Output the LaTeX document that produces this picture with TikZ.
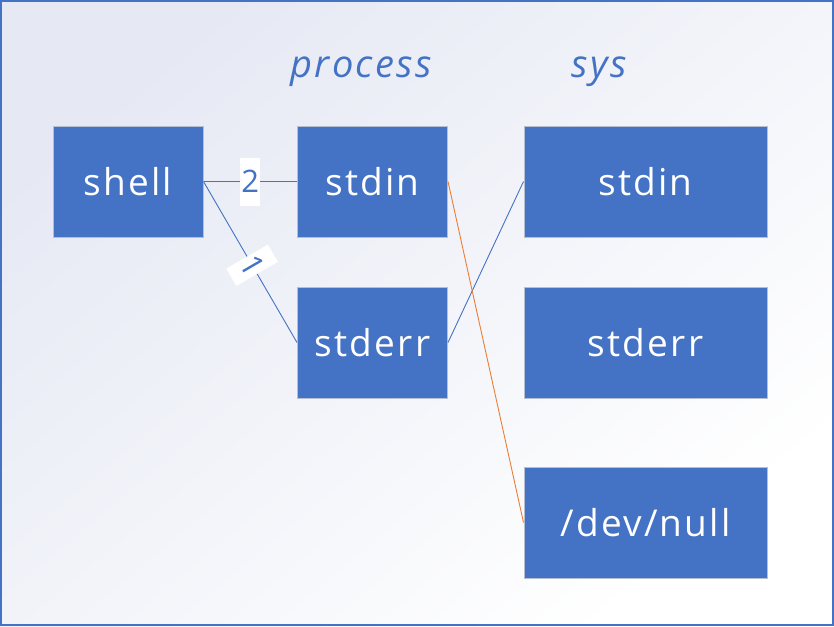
\documentclass[tikz,border=0pt]{standalone}
\usepackage{fontspec}
\setmainfont{Open Sans}
\newfontfamily\handfont[LetterSpace=6]{Open Sans}
\definecolor{acc}{HTML}{4472C4}
\definecolor{boxedge}{HTML}{B4BFD2}
\definecolor{orng}{HTML}{ED7D31}
\definecolor{bgtop}{HTML}{E6E9F4}
\begin{document}
\begin{tikzpicture}[x=1pt,y=-1pt,
  box/.style={fill=acc, draw=boxedge, line width=1pt, minimum height=111pt,
    text=white, font=\handfont\fontsize{37}{44}\selectfont, inner sep=0pt},
  narrow/.style={box, minimum width=150pt},
  wide/.style={box, minimum width=243pt},
  head/.style={text=acc, font=\handfont\fontsize{38}{44}\selectfont\itshape, inner sep=0pt},
  link/.style={draw=acc, line width=0.9pt},
  tag/.style={fill=white, text=acc, font=\fontsize{31}{34}\selectfont, inner sep=0pt,
    minimum width=20pt, minimum height=48pt}]
\useasboundingbox (0,0) rectangle (834,626);
\shade[shading=axis, top color=bgtop, bottom color=white, shading angle=40] (0,0) rectangle (834,626);
\draw[acc, line width=1.2pt] (1,1) rectangle (833,625);

\node[head] (hproc) at (361,72) {process};
\node[head] (hsys) at (599,72) {sys};

\node[narrow] (shell) at (128,181.5) {shell};
\node[narrow] (pin) at (372.5,181.5) {stdin};
\node[narrow] (perr) at (372.5,342.5) {stderr};
\node[wide] (sin) at (645.5,181.5) {stdin};
\node[wide] (serr) at (645.5,342.5) {stderr};
\node[wide] (null) at (645.5,522.5) {/dev/null};

\draw[link] (shell.east) -- node[tag, pos=0.5] {2} (pin.west);
\draw[link] (shell.east) -- node[tag, pos=0.52, sloped] {1} (perr.west);
\draw[link] (perr.east) -- (sin.west);
\draw[draw=orng, line width=0.9pt] (pin.east) -- (null.west);
\end{tikzpicture}
\end{document}
